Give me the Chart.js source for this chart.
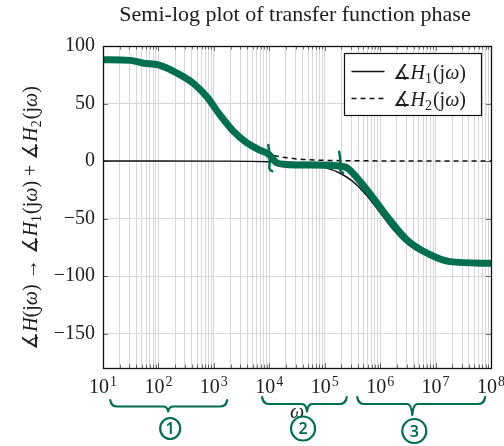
<!DOCTYPE html>
<html><head><meta charset="utf-8">
<script src="https://cdn.jsdelivr.net/npm/chart.js@4/dist/chart.umd.min.js"></script>
<style>html,body{margin:0;padding:0;background:#fff;}#wrap{width:504px;height:446px;position:relative;}</style>
</head><body><div id="wrap"><canvas id="c" width="504" height="446"></canvas></div>
<script>
// ---------- data ----------
const titleText = 'Semi-log plot of transfer function phase';
const xMin = 10, xMax = 1e8;
const yMin = -180, yMax = 100;
const yTicks = [-150, -100, -50, 0, 50, 100];
const xDecades = [1, 2, 3, 4, 5, 6, 7];
const xMultipliers = [1, 2, 3, 4, 5, 6, 7, 8, 9];

// ∡H1(jω) (solid)
const h1Omega = [10, 100, 1000, 10000, 31600, 100000, 178000, 316000, 562000, 1e6, 1.78e6, 3.16e6, 5.62e6, 1e7, 3.16e7, 1e8];
const h1Phase = [0, 0, -0.1, -0.6, -1.8, -5.7, -10, -17.5, -29.5, -45, -60.5, -72.5, -80, -84.3, -88.2, -89.4];
// ∡H2(jω) (dashed)
const h2Omega = [10, 31.6, 100, 178, 316, 562, 1000, 1780, 3160, 5620, 10000, 31600, 1e5, 1e6, 1e8];
const h2Phase = [89.4, 88.2, 84.3, 80, 72.5, 60.5, 45, 29.5, 17.5, 10, 5.7, 1.8, 0.6, 0.1, 0];
// hand-drawn green sketch of ∡H(jω)
const sketchOmega = [10, 31, 54, 100, 214, 427, 741, 1290, 2240, 3890, 6760, 10000, 13500, 20000, 35500, 126000, 224000, 263000, 575000, 1.32e6, 3.02e6, 7.94e6, 1.82e7, 1e8];
const sketchPhase = [88, 87.5, 85, 83.5, 76.5, 67.5, 56, 40, 26, 16, 9.5, 5.5, -1.5, -3, -3.5, -3.8, -5, -6.5, -25, -48, -68.5, -81.5, -87.5, -89];
// hand-drawn region markers (ω where the sketch is split, and phase extent)
const markOmega = [1e4, 1.9e5];
const markTop = [14, 8];
const markBottom = [-8, -9.5];
// braces under the axis: [start ω, end ω, tip ω]
const braceStart = [13.5, 7400, 3.85e5];
const braceEnd = [1740, 2.5e5, 7.85e7];
const braceTip = [150, 4.8e4, 3.8e6];
const braceLabels = ['1', '2', '3'];

// ---------- styles ----------
const GREEN = '#006f4f';
const TEXT = '#1c1c1c';
const GRID = '#d6d6d6';
const SERIF = '"Liberation Serif", "DejaVu Serif", serif';

const xGridValues = [];
xDecades.forEach(k => xMultipliers.forEach(m => xGridValues.push(m * Math.pow(10, k))));
xGridValues.push(xMax);
const isDecade = v => Math.abs(Math.log10(v) - Math.round(Math.log10(v))) < 1e-9;

const toXY = (xs, ys) => xs.map((x, i) => ({x, y: ys[i]}));

function segFont(s, size) {
  const fs = s.sub ? size * 0.7 : size;
  return (s.it ? 'italic ' : '') + fs + 'px ' + SERIF;
}
function richWidth(ctx, segs, size) {
  let w = 0;
  segs.forEach(s => { ctx.font = segFont(s, size); w += ctx.measureText(s.t).width + (s.gap || 0); });
  return w;
}
function drawRich(ctx, segs, x, y, size) {
  let cx = x;
  ctx.textAlign = 'left';
  ctx.textBaseline = 'alphabetic';
  segs.forEach(s => {
    ctx.font = segFont(s, size);
    ctx.fillText(s.t, cx, s.sub ? y + size * 0.2 : y);
    cx += ctx.measureText(s.t).width + (s.gap || 0);
  });
}
const hSegs = n => [{t: '\u2221'}, {t: 'H', it: 1}, {t: n, sub: 1, gap: 1}, {t: '(j'}, {t: '\u03c9', it: 1}, {t: ')'}];
const yLabelSegs = [
  {t: '\u2221'}, {t: 'H', it: 1}, {t: '(j'}, {t: '\u03c9', it: 1}, {t: ')', gap: 5}, {t: '\u2192', gap: 5},
  ...hSegs('1').map((s, i, a) => i === a.length - 1 ? {...s, gap: 5} : s), {t: '+', gap: 5},
  ...hSegs('2')
];

function drawBrace(ctx, x0, x1, xt, yEnd, yBar, yTip) {
  ctx.beginPath();
  ctx.moveTo(x0, yEnd);
  ctx.quadraticCurveTo(x0 + 1, yBar, x0 + 7, yBar);
  ctx.lineTo(xt - 5, yBar);
  ctx.quadraticCurveTo(xt - 1, yBar, xt, yTip);
  ctx.quadraticCurveTo(xt + 1, yBar, xt + 5, yBar);
  ctx.lineTo(x1 - 7, yBar);
  ctx.quadraticCurveTo(x1 - 1, yBar, x1, yEnd);
  ctx.stroke();
}

const decor = {
  id: 'decor',
  beforeDatasetsDraw(chart) {
    const {ctx, chartArea: a, scales: {x, y}} = chart;
    ctx.save();
    ctx.strokeStyle = 'rgba(0,0,0,0.55)';
    ctx.lineWidth = 1;
    x.ticks.forEach(t => {
      const px = Math.round(x.getPixelForValue(t.value)) + 0.5;
      const len = isDecade(t.value) ? 5 : 3.5;
      ctx.beginPath();
      ctx.moveTo(px, a.bottom); ctx.lineTo(px, a.bottom - len);
      ctx.moveTo(px, a.top); ctx.lineTo(px, a.top + len);
      ctx.stroke();
    });
    y.ticks.forEach(t => {
      const py = Math.round(y.getPixelForValue(t.value)) + 0.5;
      ctx.beginPath();
      ctx.moveTo(a.left, py); ctx.lineTo(a.left + 5, py);
      ctx.moveTo(a.right, py); ctx.lineTo(a.right - 5, py);
      ctx.stroke();
    });
    ctx.restore();
  },
  afterDatasetsDraw(chart) {
    const {ctx, chartArea: a, scales: {x, y}} = chart;
    ctx.save();
    // frame
    ctx.strokeStyle = '#111';
    ctx.lineWidth = 1.3;
    ctx.strokeRect(Math.round(a.left) + 0.5, Math.round(a.top) + 0.5, Math.round(a.right - a.left), Math.round(a.bottom - a.top));

    // green split marks
    ctx.strokeStyle = GREEN;
    ctx.lineWidth = 2.5;
    ctx.lineCap = 'round';
    markOmega.forEach((w, i) => {
      const px = x.getPixelForValue(w);
      const yt = y.getPixelForValue(markTop[i]), yb = y.getPixelForValue(markBottom[i]);
      ctx.beginPath();
      ctx.moveTo(px - 1, yt);
      ctx.quadraticCurveTo(px + 1, (yt + yb) / 2, px, yb - 2);
      ctx.quadraticCurveTo(px + 0.5, yb, px + 3, yb + 1);
      ctx.stroke();
    });

    // legend
    const bx0 = Math.round(a.right) - 146.5, bx1 = Math.round(a.right) - 9.5;
    const by0 = Math.round(a.top) + 7.5, by1 = Math.round(a.top) + 69.5;
    ctx.fillStyle = '#fff';
    ctx.fillRect(bx0, by0, bx1 - bx0, by1 - by0);
    ctx.strokeStyle = '#111';
    ctx.lineWidth = 1.2;
    ctx.strokeRect(bx0, by0, bx1 - bx0, by1 - by0);
    const ds = chart.data.datasets;
    [ds[1], ds[2]].forEach((d, i) => {
      const ly = by0 + 18 + i * 27;
      ctx.strokeStyle = d.borderColor;
      ctx.lineWidth = d.borderWidth;
      ctx.lineCap = 'butt';
      ctx.setLineDash(d.borderDash || []);
      ctx.beginPath(); ctx.moveTo(bx0 + 7, ly); ctx.lineTo(bx0 + 40, ly); ctx.stroke();
      ctx.setLineDash([]);
      ctx.fillStyle = TEXT;
      drawRich(ctx, hSegs(String(i + 1)), bx0 + 48, ly + 7, 20);
    });

    // title
    ctx.fillStyle = TEXT;
    ctx.font = '22px ' + SERIF;
    ctx.textAlign = 'center';
    ctx.textBaseline = 'alphabetic';
    ctx.fillText(titleText, (a.left + a.right) / 2 - 2, 21);

    // x tick labels 10^k
    x.ticks.filter(t => isDecade(t.value)).forEach(t => {
      const px = x.getPixelForValue(t.value);
      const e = String(Math.round(Math.log10(t.value)));
      ctx.font = '20px ' + SERIF;
      const w1 = ctx.measureText('10').width;
      ctx.font = '14px ' + SERIF;
      const w2 = ctx.measureText(e).width;
      const sx = px - (w1 + 1 + w2) / 2;
      ctx.textAlign = 'left';
      ctx.font = '20px ' + SERIF;
      ctx.fillText('10', sx, a.bottom + 25);
      ctx.font = '14px ' + SERIF;
      ctx.fillText(e, sx + w1 + 1, a.bottom + 18);
    });

    // x axis title ω
    ctx.font = 'italic 20px ' + SERIF;
    ctx.textAlign = 'center';
    ctx.fillText('\u03c9', (a.left + a.right) / 2, a.bottom + 50);

    // y axis title (rotated)
    const wl = richWidth(ctx, yLabelSegs, 20);
    ctx.save();
    ctx.translate(37, (a.top + a.bottom) / 2 + 11);
    ctx.rotate(-Math.PI / 2);
    drawRich(ctx, yLabelSegs, -wl / 2, 0, 20);
    ctx.restore();

    // braces + circled numbers
    ctx.strokeStyle = GREEN;
    ctx.fillStyle = GREEN;
    ctx.lineWidth = 2.2;
    ctx.lineCap = 'round';
    ctx.lineJoin = 'round';
    const bb = a.bottom;
    braceStart.forEach((w0, i) => {
      const x0 = x.getPixelForValue(w0), x1 = x.getPixelForValue(braceEnd[i]), xt = x.getPixelForValue(braceTip[i]);
      const yEnd = bb + (i === 0 ? 32 : 29);
      const yBar = bb + (i === 0 ? 38.5 : 36);
      const yTip = bb + (i === 2 ? 47 : 43.5);
      drawBrace(ctx, x0, x1, xt, yEnd, yBar, yTip);
      const cy = bb + (i === 2 ? 63 : 60.5);
      ctx.beginPath();
      ctx.ellipse(xt + (i === 1 ? -4 : 2), cy, i === 0 ? 10 : 12, i === 0 ? 10.5 : 12, 0, 0, Math.PI * 2);
      ctx.stroke();
      ctx.font = '600 16px "Noto Sans", sans-serif';
      ctx.textAlign = 'center';
      ctx.textBaseline = 'middle';
      ctx.fillText(braceLabels[i], xt + (i === 1 ? -4 : 2), cy + 1);
    });
    ctx.restore();
  }
};

new Chart(document.getElementById('c'), {
  type: 'scatter',
  data: {
    datasets: [
      {label: 'sketch', data: toXY(sketchOmega, sketchPhase), showLine: true, borderColor: GREEN, borderWidth: 7,
       pointRadius: 0, cubicInterpolationMode: 'monotone', borderCapStyle: 'round', borderJoinStyle: 'round', order: 0},
      {label: 'H1', data: toXY(h1Omega, h1Phase), showLine: true, borderColor: '#111', borderWidth: 1.4,
       pointRadius: 0, cubicInterpolationMode: 'monotone', order: 2},
      {label: 'H2', data: toXY(h2Omega, h2Phase), showLine: true, borderColor: '#111', borderWidth: 1.5, borderDash: [5, 4],
       pointRadius: 0, cubicInterpolationMode: 'monotone', order: 1}
    ]
  },
  options: {
    responsive: false,
    animation: false,
    events: [],
    layout: {padding: {left: 43, right: 13, top: 46, bottom: 78}},
    plugins: {legend: {display: false}, title: {display: false}, tooltip: {enabled: false}},
    scales: {
      x: {
        type: 'logarithmic', min: xMin, max: xMax,
        afterBuildTicks: s => { s.ticks = xGridValues.map(v => ({value: v})); },
        afterFit: s => { s.height = 0; },
        ticks: {display: false, autoSkip: false},
        grid: {color: GRID, lineWidth: 1, drawTicks: false},
        border: {display: false}
      },
      y: {
        min: yMin, max: yMax,
        afterBuildTicks: s => { s.ticks = yTicks.map(v => ({value: v})); },
        afterFit: s => { s.width = 60; },
        ticks: {padding: 8, color: TEXT, font: {family: SERIF, size: 20},
                callback: v => String(v).replace('-', '\u2212')},
        grid: {color: GRID, lineWidth: 1, drawTicks: false},
        border: {display: false}
      }
    }
  },
  plugins: [decor]
});
</script>
</body></html>
